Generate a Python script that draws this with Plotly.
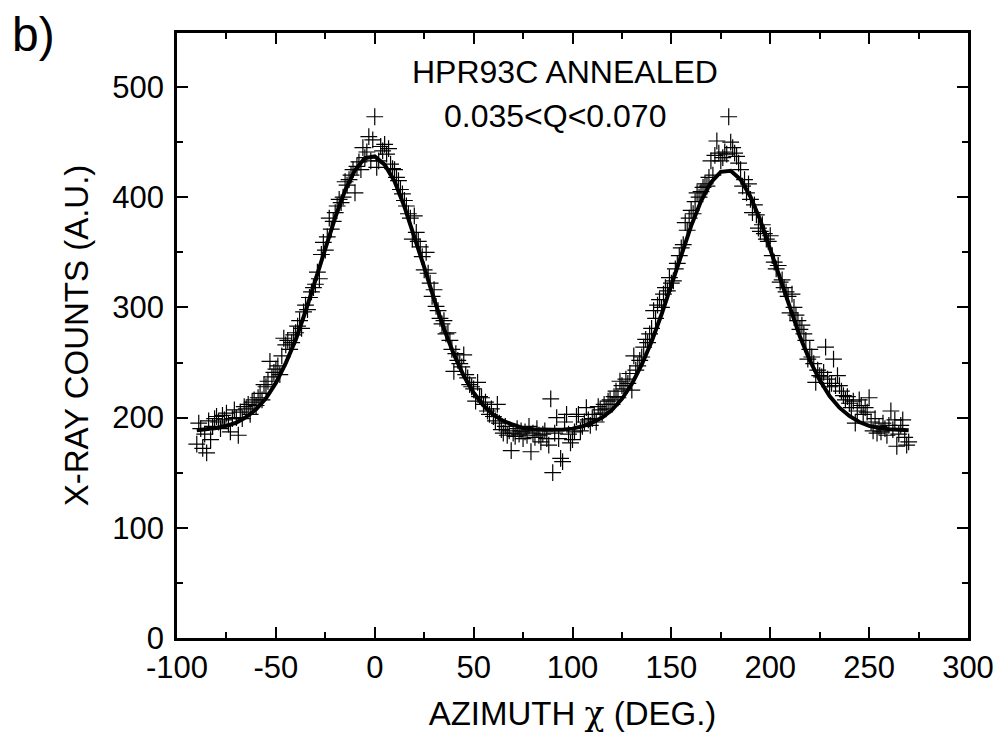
import plotly.graph_objects as go

# ---- measured data (azimuth in degrees, counts in a.u.) ----
scatter_x = list(range(-90, 271))
scatter_y = [
    176, 195, 190, 172, 185, 168, 197, 180, 192, 199,   # -90..-81
    201, 196, 190, 202, 198, 204, 194, 187, 199, 207,   # -80..-71
    200, 184, 205, 199, 210, 208, 212, 203, 214, 216,   # -70..-61
    211, 218, 222, 216, 230, 228, 233, 251, 237, 241,   # -60..-51
    244, 247, 239, 256, 272, 266, 270, 262, 268, 275,   # -50..-41
    277, 283, 288, 281, 296, 302, 298, 309, 314, 318,   # -40..-31
    321, 332, 326, 348, 359, 352, 364, 381, 371, 378,   # -30..-21
    386, 392, 398, 395, 400, 414, 411, 416, 420, 425,   # -20..-11
    404, 428, 432, 425, 445, 436, 441, 455, 433, 452,   # -10..-1
    473, 427, 433, 446, 442, 448, 439, 444, 430, 426,   # 0..9
    425, 418, 415, 407, 403, 397, 392, 385, 381, 362,   # 10..19
    383, 368, 360, 355, 346, 334, 350, 331, 322, 310,   # 20..29
    316, 301, 297, 290, 285, 288, 276, 277, 270, 262,   # 30..39
    242, 258, 252, 249, 246, 257, 239, 236, 230, 228,   # 40..49
    226, 215, 232, 219, 218, 212, 214, 206, 203, 208,   # 50..59
    201, 197, 212, 195, 189, 186, 192, 184, 188, 170,   # 60..69
    186, 183, 190, 185, 188, 181, 187, 184, 192, 169,   # 70..79
    186, 182, 190, 184, 178, 185, 188, 181, 175, 217,   # 80..89
    150, 186, 200, 181, 163, 160, 196, 203, 185, 177,   # 90..99
    180, 187, 201, 203, 188, 192, 196, 209, 198, 193,   # 100..109
    199, 203, 196, 210, 207, 204, 212, 208, 215, 216,   # 110..119
    212, 219, 224, 218, 233, 229, 226, 235, 231, 240,   # 120..129
    225, 256, 243, 247, 252, 255, 264, 271, 268, 276,   # 130..139
    281, 297, 290, 302, 307, 300, 312, 318, 315, 327,   # 140..149
    322, 324, 335, 340, 347, 354, 357, 377, 370, 381,   # 150..159
    388, 385, 396, 404, 400, 405, 409, 412, 410, 418,   # 160..169
    433, 420, 438, 451, 440, 433, 436, 441, 439, 473,   # 170..179
    450, 445, 440, 437, 431, 425, 410, 416, 404, 412,   # 180..189
    398, 386, 393, 384, 372, 369, 375, 367, 362, 360,   # 190..199
    365, 347, 341, 335, 338, 323, 325, 318, 314, 310,   # 200..209
    295, 312, 300, 293, 288, 280, 284, 276, 270, 253,   # 210..219
    262, 255, 249, 232, 243, 238, 237, 241, 264, 235,   # 220..229
    228, 231, 253, 229, 238, 229, 224, 220, 216, 219,   # 230..239
    213, 209, 215, 195, 206, 216, 211, 203, 209, 205,   # 240..249
    218, 196, 188, 199, 186, 192, 187, 195, 190, 184,   # 250..259
    193, 206, 189, 198, 174, 185, 193, 198, 182, 175,   # 260..269
    178,                                                # 270
]

fit_x = list(range(-90, 271, 5))
fit_y = [
    188.5, 189.5, 190.5, 192.5, 195.5, 200.5, 207.5, 217.5, 231.5, 249.5,
    270.5, 296.5, 324.5, 353.5, 381.5, 406.0, 424.5, 435.5, 437.0, 429.5,
    414.5, 391.5, 365.0, 336.5, 307.5, 280.5, 257.5, 238.0, 222.5, 211.0,
    202.5, 197.0, 193.5, 190.5, 189.5, 189.0, 189.0, 189.0, 190.0, 192.0,
    195.5, 200.0, 207.0, 217.0, 230.5, 248.0, 269.0, 293.5, 320.0, 347.5,
    374.0, 396.5, 413.5, 423.0, 424.0, 416.0, 400.5, 379.0, 353.0, 325.5,
    298.5, 273.5, 252.0, 234.0, 219.5, 209.0, 201.5, 196.0, 192.5, 190.5,
    189.5, 189.0, 188.5,
]

x_ticks = [-100, -50, 0, 50, 100, 150, 200, 250, 300]
x_ticklabels = ["-100", "-50", "0", "50", "100", "150", "200", "250", "300"]
y_ticks = [0, 100, 200, 300, 400, 500]
y_ticklabels = ["0", "100", "200", "300", "400", "500"]

FONT = "Liberation Sans, Arial, sans-serif"

fig = go.Figure()
fig.add_trace(go.Scatter(
    x=scatter_x, y=scatter_y, mode="markers",
    marker=dict(symbol="cross-thin", size=12, color="black",
                line=dict(color="black", width=1.2)),
    showlegend=False,
))
fig.add_trace(go.Scatter(
    x=fit_x, y=fit_y, mode="lines",
    line=dict(color="black", width=4),
    showlegend=False,
))

axis_common = dict(
    showline=True, linecolor="black", linewidth=2.5, mirror="allticks",
    ticks="inside", ticklen=11, tickwidth=2, tickcolor="black",
    showgrid=False, zeroline=False,
    tickfont=dict(family=FONT, size=31, color="black"),
)

fig.update_xaxes(
    range=[-100, 300], tickvals=x_ticks, ticktext=x_ticklabels,
    minor=dict(dtick=25, ticks="inside", ticklen=6, tickwidth=2, tickcolor="black", showgrid=False),
    title=dict(text="AZIMUTH <span style='font-family:DejaVu Serif'>χ</span> (DEG.)",
               font=dict(family=FONT, size=33, color="black"), standoff=18),
    **axis_common,
)
fig.update_yaxes(
    range=[0, 549], tickvals=y_ticks, ticktext=y_ticklabels,
    minor=dict(dtick=50, ticks="inside", ticklen=6, tickwidth=2, tickcolor="black", showgrid=False),
    title=dict(text="X-RAY COUNTS (A.U.)",
               font=dict(family=FONT, size=33, color="black"), standoff=14),
    ticklabelstandoff=4,
    **axis_common,
)

fig.add_annotation(x=96, y=514, xref="x", yref="y", text="HPR93C ANNEALED",
                   showarrow=False, xanchor="center", yanchor="middle",
                   font=dict(family=FONT, size=32, color="black"))
fig.add_annotation(x=91, y=474, xref="x", yref="y", text="0.035<Q<0.070",
                   showarrow=False, xanchor="center", yanchor="middle",
                   font=dict(family=FONT, size=32, color="black"))
fig.add_annotation(x=-0.211, y=0.997, xref="paper", yref="paper", text="b)",
                   showarrow=False, xanchor="left", yanchor="middle",
                   font=dict(family=FONT, size=48, color="black"))

# the page body adds an 8px offset; margins compensate so the plot sits at
# left 177, top 33, right 968, bottom 638 in the window
fig.update_layout(
    width=1002, height=745,
    margin=dict(l=169, r=42, t=25, b=115),
    paper_bgcolor="white", plot_bgcolor="white",
)

fig.write_html("out.html")
